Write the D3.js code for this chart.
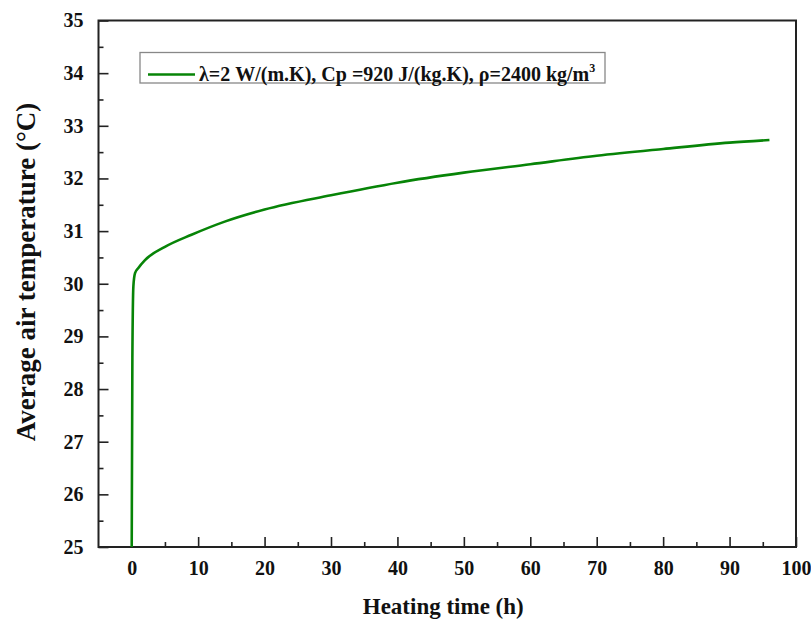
<!DOCTYPE html>
<html>
<head>
<meta charset="utf-8">
<script src="https://cdn.jsdelivr.net/npm/d3@7"></script>
<style>
  body { margin: 0; background: #fff; }
  text { font-family: "Liberation Serif", "Times New Roman", serif; font-weight: bold; fill: #111; }
</style>
</head>
<body>
<svg id="svg" width="811" height="621"></svg>
<script>
// data
var hours = [0, 0.1, 0.25, 0.5, 1, 2, 5, 9, 14, 20, 30, 40, 50, 60, 70, 80, 90, 96];
var temps = [25, 28.6, 29.95, 30.2, 30.3, 30.45, 30.7, 30.93, 31.18, 31.41, 31.68, 31.92, 32.11, 32.27, 32.43, 32.56, 32.68, 32.73];
var xTicks = [0, 10, 20, 30, 40, 50, 60, 70, 80, 90, 100];
var yTicks = [25, 26, 27, 28, 29, 30, 31, 32, 33, 34, 35];
var legendLabel = "λ=2 W/(m.K), Cp =920 J/(kg.K), ρ=2400 kg/m";

var plotL = 98.5, plotR = 796, plotT = 20.5, plotB = 547;

var svg = d3.select("svg");

var x = d3.scaleLinear().domain([-5, 100]).range([plotL, plotR]);
var y = d3.scaleLinear().domain([25, 35]).range([plotB, plotT]);

// minor ticks
var xMinor = xTicks.slice(0, -1).map(function (d) { return d + 5; });
var yMinor = yTicks.slice(0, -1).map(function (d) { return d + 0.5; });

svg.append("g")
    .attr("transform", "translate(0," + plotB + ")")
    .call(d3.axisBottom(x).tickValues(xTicks).tickSize(-10).tickPadding(14).tickFormat(d3.format("d")));
svg.append("g")
    .attr("transform", "translate(0," + plotB + ")")
    .call(d3.axisBottom(x).tickValues(xMinor).tickSize(-5).tickFormat(""));

svg.append("g")
    .attr("transform", "translate(" + plotL + ",0)")
    .call(d3.axisLeft(y).tickValues(yTicks).tickSize(-10).tickPadding(15).tickFormat(d3.format("d")));
svg.append("g")
    .attr("transform", "translate(" + plotL + ",0)")
    .call(d3.axisLeft(y).tickValues(yMinor).tickSize(-5).tickFormat(""));

svg.selectAll(".domain").remove();
svg.selectAll(".tick line").attr("stroke", "#222").attr("stroke-width", 1.6);
svg.selectAll(".tick text").attr("font-size", 20).attr("fill", "#111")
    .style("font-family", "'Liberation Serif', serif").style("font-weight", "bold");

// frame
svg.append("rect")
    .attr("x", plotL).attr("y", plotT)
    .attr("width", plotR - plotL).attr("height", plotB - plotT)
    .attr("fill", "none").attr("stroke", "#222").attr("stroke-width", 2);

// curve
var pts = hours.map(function (h, i) { return [h, temps[i]]; });
var line = d3.line()
    .x(function (d) { return x(d[0]); })
    .y(function (d) { return y(d[1]); })
    .curve(d3.curveMonotoneX);

svg.append("path")
    .datum(pts)
    .attr("d", line)
    .attr("fill", "none")
    .attr("stroke", "#078407")
    .attr("stroke-width", 2.6);

// legend
svg.append("rect")
    .attr("x", 140).attr("y", 52.5)
    .attr("width", 465).attr("height", 30.5)
    .attr("fill", "#fff").attr("stroke", "#888").attr("stroke-width", 1.3);
svg.append("line")
    .attr("x1", 148).attr("x2", 195).attr("y1", 74.5).attr("y2", 74.5)
    .attr("stroke", "#078407").attr("stroke-width", 2.6);
var lt = svg.append("text")
    .attr("x", 199).attr("y", 81)
    .attr("font-size", 20)
    .text(legendLabel);
lt.append("tspan").attr("dy", -9).attr("font-size", 12).text("3");

// axis titles
svg.append("text")
    .attr("x", (plotL + plotR) / 2 - 4).attr("y", 614)
    .attr("text-anchor", "middle")
    .attr("font-size", 23)
    .text("Heating time (h)");

svg.append("text")
    .attr("transform", "translate(35,272) rotate(-90)")
    .attr("text-anchor", "middle")
    .attr("font-size", 27)
    .text("Average air temperature (°C)");
</script>
</body>
</html>
